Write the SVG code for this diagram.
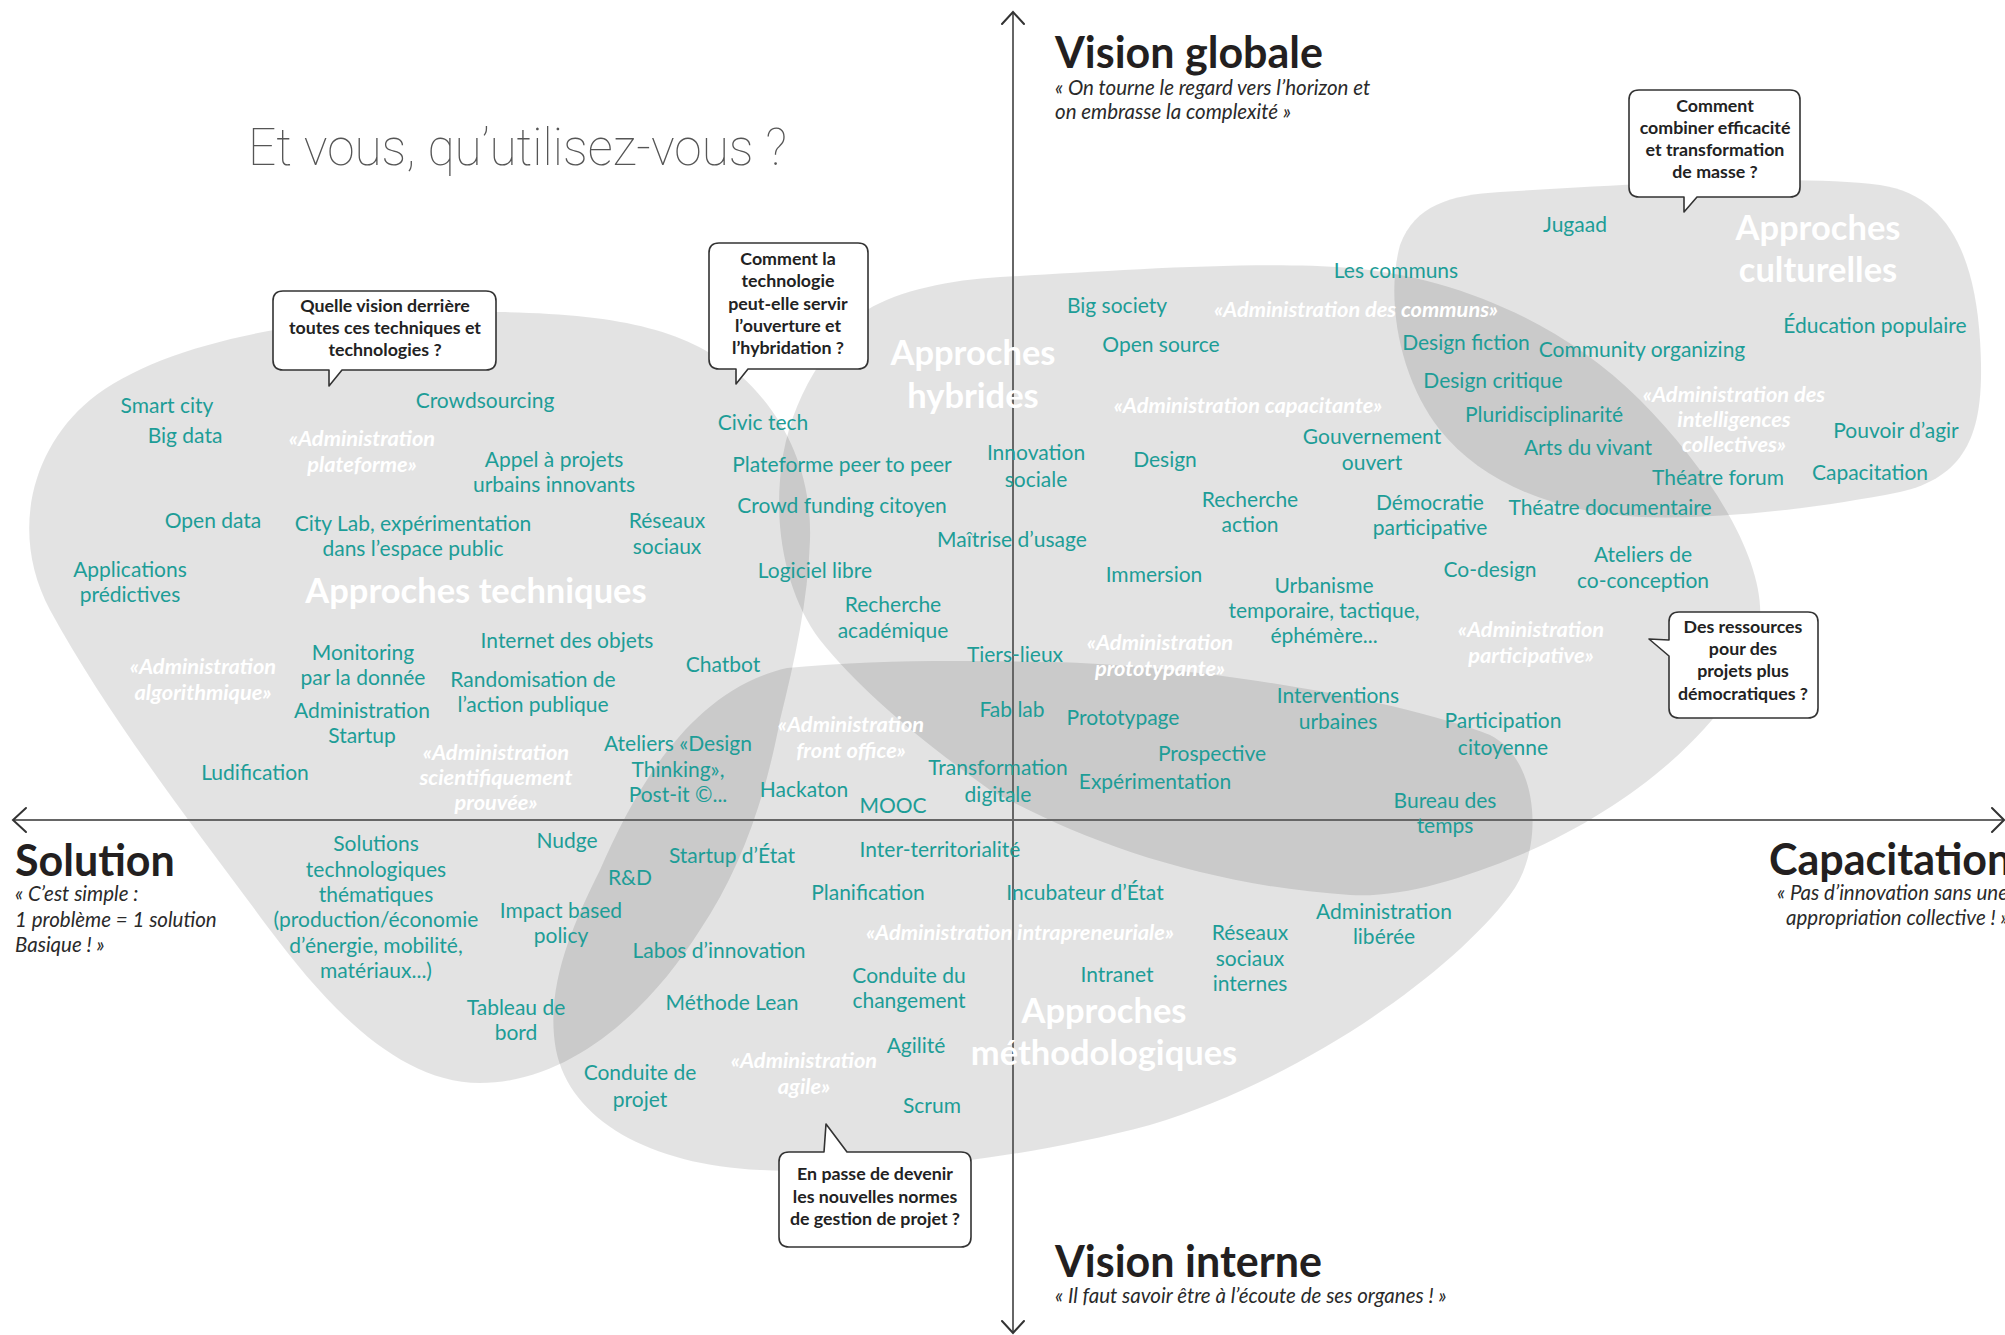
<svg xmlns="http://www.w3.org/2000/svg" width="2005" height="1335" viewBox="0 0 2005 1335">
<style>
.blob{fill:#000;fill-opacity:0.11;stroke:none}
.t{font-family:Lato,'Open Sans',sans-serif;font-size:21px;fill:#1d9d97;text-anchor:middle}
.a{font-family:Lato,'Open Sans',sans-serif;font-size:21.8px;font-weight:700;font-style:italic;fill:#fff;text-anchor:middle}
.h{font-family:Lato,'Open Sans',sans-serif;font-size:34.5px;font-weight:700;fill:#fff;text-anchor:middle}
.k{font-family:Lato,'Open Sans',sans-serif;font-size:43px;font-weight:700;fill:#231f20}
.q{font-family:Lato,'Open Sans',sans-serif;font-size:20.5px;font-style:italic;fill:#2a2a2a}
.b{font-family:Lato,'Open Sans',sans-serif;font-size:17.8px;font-weight:700;fill:#222;text-anchor:middle}
.bub{fill:#fff;stroke:#333;stroke-width:1.6;stroke-linejoin:round}
.ax{stroke:#666;stroke-width:2;fill:none}
.ar{stroke:#333;stroke-width:2;fill:none;stroke-linecap:round;stroke-linejoin:miter}
</style>
<rect width="2005" height="1335" fill="#fff"/>
<g id="blobs">
<path id="blob-techniques" class="blob" d="M500,312 C620,314 690,330 740,375 C790,420 812,480 810,540 C808,600 795,660 780,720 C765,800 740,870 700,930 C650,1010 570,1083 480,1083 C400,1083 330,1010 270,930 C200,835 110,720 50,610 C10,535 30,450 90,400 C170,335 340,312 500,312 Z"/>
<path id="blob-hybrides" class="blob" d="M867,310 C900,290 950,280 1000,277 C1100,272 1250,260 1350,268 C1450,276 1560,320 1640,400 C1710,470 1765,560 1760,620 C1755,700 1650,800 1520,855 C1460,880 1400,898 1350,895 C1200,885 1080,840 990,790 C920,740 860,690 820,640 C790,600 775,540 780,480 C785,410 820,350 867,310 Z"/>
<path id="blob-methodologiques" class="blob" d="M787,668 C870,660 950,660 1050,662 C1200,665 1400,700 1490,735 C1540,760 1545,850 1510,895 C1450,975 1300,1080 1150,1125 C1000,1165 850,1175 760,1170 C650,1165 570,1120 556,1050 C545,990 570,930 600,870 C635,790 690,690 787,668 Z"/>
<path id="blob-culturelles" class="blob" d="M1500,192 C1650,183 1800,175 1880,185 C1950,195 1975,260 1980,340 C1985,420 1975,475 1900,492 C1820,508 1720,520 1640,517 C1550,512 1480,480 1440,430 C1400,380 1385,300 1400,245 C1415,205 1450,195 1500,192 Z"/>
</g>
<g id="connectors">
<line class="ax" x1="1013" y1="13" x2="1013" y2="1332"/>
<line class="ax" x1="13" y1="820" x2="2003" y2="820"/>
<path class="ar" d="M1002,24 L1013,12 L1024,24"/>
<path class="ar" d="M1002,1321 L1013,1333 L1024,1321"/>
<path class="ar" d="M26,808 L13,820 L26,832"/>
<path class="ar" d="M1992,808 L2004,820 L1992,832"/>
</g>
<g id="title"><text x="248" y="165" font-family="Roboto,'Open Sans',sans-serif" font-weight="100" font-size="52" fill="#555" textLength="539" lengthAdjust="spacingAndGlyphs">Et vous, qu’utilisez-vous ?</text></g>
<g id="headers">
<g id="h-hybrides"><text class="h" x="973" y="365">Approches</text><text class="h" x="973" y="408">hybrides</text></g>
<g id="h-techniques"><text class="h" x="476" y="603">Approches techniques</text></g>
<g id="h-culturelles"><text class="h" x="1818" y="240">Approches</text><text class="h" x="1818" y="282">culturelles</text></g>
<g id="h-methodologiques"><text class="h" x="1104" y="1023">Approches</text><text class="h" x="1104" y="1065">méthodologiques</text></g>
</g>
<g id="axis-labels">
<g id="vision-globale"><text class="k" x="1055" y="68">Vision globale</text><text class="q" x="1055" y="95">« On tourne le regard vers l’horizon et</text><text class="q" x="1055" y="119">on embrasse la complexité »</text></g>
<g id="solution"><text class="k" x="15" y="876">Solution</text><text class="q" x="15" y="901">« C’est simple :</text><text class="q" x="15" y="927">1 problème = 1 solution</text><text class="q" x="15" y="952">Basique ! »</text></g>
<g id="capacitation"><text class="k" x="1769" y="875">Capacitation</text><text class="q" x="1777" y="900">« Pas d’innovation sans une</text><text class="q" x="1786" y="925">appropriation collective ! »</text></g>
<g id="vision-interne"><text class="k" x="1055" y="1277">Vision interne</text><text class="q" x="1055" y="1303">« Il faut savoir être à l’écoute de ses organes ! »</text></g>
</g>
<g id="admin-labels">
<g id="a-plateforme"><text class="a" x="362" y="446">«Administration</text><text class="a" x="362" y="472">plateforme»</text></g>
<g id="a-algorithmique"><text class="a" x="203" y="674">«Administration</text><text class="a" x="203" y="700">algorithmique»</text></g>
<g id="a-scientifique"><text class="a" x="496" y="760">«Administration</text><text class="a" x="496" y="785">scientifiquement</text><text class="a" x="496" y="810">prouvée»</text></g>
<g id="a-front"><text class="a" x="851" y="732">«Administration</text><text class="a" x="851" y="758">front office»</text></g>
<g id="a-communs"><text class="a" x="1356" y="317">«Administration des communs»</text></g>
<g id="a-capacitante"><text class="a" x="1248" y="413">«Administration capacitante»</text></g>
<g id="a-prototypante"><text class="a" x="1160" y="650">«Administration</text><text class="a" x="1160" y="676">prototypante»</text></g>
<g id="a-intelligences"><text class="a" x="1734" y="402">«Administration des</text><text class="a" x="1734" y="427">intelligences</text><text class="a" x="1734" y="452">collectives»</text></g>
<g id="a-participative"><text class="a" x="1531" y="637">«Administration</text><text class="a" x="1531" y="663">participative»</text></g>
<g id="a-intrapreneuriale"><text class="a" x="1020" y="940">«Administration intrapreneuriale»</text></g>
<g id="a-agile"><text class="a" x="804" y="1068">«Administration</text><text class="a" x="804" y="1094">agile»</text></g>
</g>
<g id="items">
<g id="n1"><text class="t" x="167" y="413">Smart city</text></g>
<g id="n2"><text class="t" x="185" y="443">Big data</text></g>
<g id="n3"><text class="t" x="485" y="408">Crowdsourcing</text></g>
<g id="n4"><text class="t" x="554" y="467">Appel à projets</text><text class="t" x="554" y="492">urbains innovants</text></g>
<g id="n5"><text class="t" x="763" y="430">Civic tech</text></g>
<g id="n6"><text class="t" x="213" y="528">Open data</text></g>
<g id="n7"><text class="t" x="413" y="531">City Lab, expérimentation</text><text class="t" x="413" y="556">dans l’espace public</text></g>
<g id="n8"><text class="t" x="667" y="528">Réseaux</text><text class="t" x="667" y="554">sociaux</text></g>
<g id="n9"><text class="t" x="842" y="472">Plateforme peer to peer</text></g>
<g id="n10"><text class="t" x="842" y="513">Crowd funding citoyen</text></g>
<g id="n11"><text class="t" x="815" y="578">Logiciel libre</text></g>
<g id="n12"><text class="t" x="130" y="577">Applications</text><text class="t" x="130" y="602">prédictives</text></g>
<g id="n13"><text class="t" x="567" y="648">Internet des objets</text></g>
<g id="n14"><text class="t" x="893" y="612">Recherche</text><text class="t" x="893" y="638">académique</text></g>
<g id="n15"><text class="t" x="723" y="672">Chatbot</text></g>
<g id="n16"><text class="t" x="363" y="660">Monitoring</text><text class="t" x="363" y="685">par la donnée</text></g>
<g id="n17"><text class="t" x="533" y="687">Randomisation de</text><text class="t" x="533" y="712">l’action publique</text></g>
<g id="n18"><text class="t" x="362" y="718">Administration</text><text class="t" x="362" y="743">Startup</text></g>
<g id="n19"><text class="t" x="255" y="780">Ludification</text></g>
<g id="n20"><text class="t" x="678" y="751">Ateliers «Design</text><text class="t" x="678" y="777">Thinking»,</text><text class="t" x="678" y="802">Post-it ©...</text></g>
<g id="n21"><text class="t" x="804" y="797">Hackaton</text></g>
<g id="n22"><text class="t" x="893" y="813">MOOC</text></g>
<g id="n23"><text class="t" x="998" y="775">Transformation</text><text class="t" x="998" y="802">digitale</text></g>
<g id="n24"><text class="t" x="1036" y="460">Innovation</text><text class="t" x="1036" y="487">sociale</text></g>
<g id="n25"><text class="t" x="1012" y="547">Maîtrise d’usage</text></g>
<g id="n26"><text class="t" x="1015" y="662">Tiers-lieux</text></g>
<g id="n27"><text class="t" x="1012" y="717">Fab lab</text></g>
<g id="n28"><text class="t" x="1117" y="313">Big society</text></g>
<g id="n29"><text class="t" x="1161" y="352">Open source</text></g>
<g id="n30"><text class="t" x="1396" y="278">Les communs</text></g>
<g id="n31"><text class="t" x="1165" y="467">Design</text></g>
<g id="n32"><text class="t" x="1154" y="582">Immersion</text></g>
<g id="n33"><text class="t" x="1250" y="507">Recherche</text><text class="t" x="1250" y="532">action</text></g>
<g id="n34"><text class="t" x="1372" y="444">Gouvernement</text><text class="t" x="1372" y="470">ouvert</text></g>
<g id="n35"><text class="t" x="1430" y="510">Démocratie</text><text class="t" x="1430" y="535">participative</text></g>
<g id="n36"><text class="t" x="1324" y="593">Urbanisme</text><text class="t" x="1324" y="618">temporaire, tactique,</text><text class="t" x="1324" y="643">éphémère...</text></g>
<g id="n37"><text class="t" x="1123" y="725">Prototypage</text></g>
<g id="n38"><text class="t" x="1338" y="703">Interventions</text><text class="t" x="1338" y="729">urbaines</text></g>
<g id="n39"><text class="t" x="1212" y="761">Prospective</text></g>
<g id="n40"><text class="t" x="1155" y="789">Expérimentation</text></g>
<g id="n41"><text class="t" x="1445" y="808">Bureau des</text><text class="t" x="1445" y="833">temps</text></g>
<g id="n42"><text class="t" x="1490" y="577">Co-design</text></g>
<g id="n43"><text class="t" x="1503" y="728">Participation</text><text class="t" x="1503" y="755">citoyenne</text></g>
<g id="n44"><text class="t" x="1575" y="232">Jugaad</text></g>
<g id="n45"><text class="t" x="1466" y="350">Design fiction</text></g>
<g id="n46"><text class="t" x="1642" y="357">Community organizing</text></g>
<g id="n47"><text class="t" x="1493" y="388">Design critique</text></g>
<g id="n48"><text class="t" x="1544" y="422">Pluridisciplinarité</text></g>
<g id="n49"><text class="t" x="1588" y="455">Arts du vivant</text></g>
<g id="n50"><text class="t" x="1875" y="333">Éducation populaire</text></g>
<g id="n51"><text class="t" x="1896" y="438">Pouvoir d’agir</text></g>
<g id="n52"><text class="t" x="1870" y="480">Capacitation</text></g>
<g id="n53"><text class="t" x="1718" y="485">Théatre forum</text></g>
<g id="n54"><text class="t" x="1610" y="515">Théatre documentaire</text></g>
<g id="n55"><text class="t" x="1643" y="562">Ateliers de</text><text class="t" x="1643" y="588">co-conception</text></g>
<g id="n56"><text class="t" x="376" y="851">Solutions</text><text class="t" x="376" y="877">technologiques</text><text class="t" x="376" y="902">thématiques</text><text class="t" x="376" y="927">(production/économie</text><text class="t" x="376" y="953">d’énergie, mobilité,</text><text class="t" x="376" y="978">matériaux...)</text></g>
<g id="n57"><text class="t" x="567" y="848">Nudge</text></g>
<g id="n58"><text class="t" x="630" y="885">R&amp;D</text></g>
<g id="n59"><text class="t" x="732" y="863">Startup d’État</text></g>
<g id="n60"><text class="t" x="940" y="857">Inter-territorialité</text></g>
<g id="n61"><text class="t" x="868" y="900">Planification</text></g>
<g id="n62"><text class="t" x="1085" y="900">Incubateur d’État</text></g>
<g id="n63"><text class="t" x="561" y="918">Impact based</text><text class="t" x="561" y="943">policy</text></g>
<g id="n64"><text class="t" x="719" y="958">Labos d’innovation</text></g>
<g id="n65"><text class="t" x="516" y="1015">Tableau de</text><text class="t" x="516" y="1040">bord</text></g>
<g id="n66"><text class="t" x="732" y="1010">Méthode Lean</text></g>
<g id="n67"><text class="t" x="909" y="983">Conduite du</text><text class="t" x="909" y="1008">changement</text></g>
<g id="n68"><text class="t" x="916" y="1053">Agilité</text></g>
<g id="n69"><text class="t" x="640" y="1080">Conduite de</text><text class="t" x="640" y="1107">projet</text></g>
<g id="n70"><text class="t" x="932" y="1113">Scrum</text></g>
<g id="n71"><text class="t" x="1117" y="982">Intranet</text></g>
<g id="n72"><text class="t" x="1250" y="940">Réseaux</text><text class="t" x="1250" y="966">sociaux</text><text class="t" x="1250" y="991">internes</text></g>
<g id="n73"><text class="t" x="1384" y="919">Administration</text><text class="t" x="1384" y="944">libérée</text></g>
</g>
<g id="bubbles">
<g id="bubble-vision"><path class="bub" d="M283,291 H486 Q496,291 496,301 V360 Q496,370 486,370 H342 L329,386 L329,370 H283 Q273,370 273,360 V301 Q273,291 283,291 Z"/><text class="b" x="385" y="312">Quelle vision derrière</text><text class="b" x="385" y="334">toutes ces techniques et</text><text class="b" x="385" y="356">technologies ?</text></g>
<g id="bubble-technologie"><path class="bub" d="M719,243 H858 Q868,243 868,253 V359 Q868,369 858,369 H748 L736,384 L736,369 H719 Q709,369 709,359 V253 Q709,243 719,243 Z"/><text class="b" x="788" y="265">Comment la</text><text class="b" x="788" y="287">technologie</text><text class="b" x="788" y="310">peut-elle servir</text><text class="b" x="788" y="332">l’ouverture et</text><text class="b" x="788" y="354">l’hybridation ?</text></g>
<g id="bubble-efficacite"><path class="bub" d="M1639,90 H1790 Q1800,90 1800,100 V187 Q1800,197 1790,197 H1697 L1684,212 L1684,197 H1639 Q1629,197 1629,187 V100 Q1629,90 1639,90 Z"/><text class="b" x="1715" y="112">Comment</text><text class="b" x="1715" y="134">combiner efficacité</text><text class="b" x="1715" y="156">et transformation</text><text class="b" x="1715" y="178">de masse ?</text></g>
<g id="bubble-ressources"><path class="bub" d="M1679,612 H1808 Q1818,612 1818,622 V708 Q1818,718 1808,718 H1679 Q1669,718 1669,708 V656 L1649,639 L1669,640 V622 Q1669,612 1679,612 Z"/><text class="b" x="1743" y="633">Des ressources</text><text class="b" x="1743" y="655">pour des</text><text class="b" x="1743" y="677">projets plus</text><text class="b" x="1743" y="700">démocratiques ?</text></g>
<g id="bubble-normes"><path class="bub" d="M789,1152 H824 L826,1124 L847,1152 H961 Q971,1152 971,1162 V1237 Q971,1247 961,1247 H789 Q779,1247 779,1237 V1162 Q779,1152 789,1152 Z"/><text class="b" x="875" y="1180">En passe de devenir</text><text class="b" x="875" y="1203">les nouvelles normes</text><text class="b" x="875" y="1225">de gestion de projet ?</text></g>
</g>
</svg>
